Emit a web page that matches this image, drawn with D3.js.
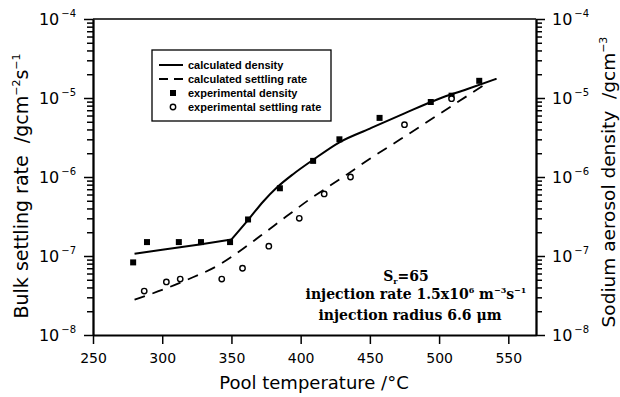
<!DOCTYPE html>
<html><head><meta charset="utf-8">
<script src="https://cdn.jsdelivr.net/npm/d3@7"></script>
<style>
body{margin:0;background:#fff;}
svg{display:block;}
text{fill:#000;}
</style></head>
<body>
<svg id="c" width="620" height="397"></svg>
<script>
// ---- data ----
const xTicks = [250, 300, 350, 400, 450, 500, 550];
const yDecades = [-8, -7, -6, -5, -4];
const calcDensityT = [280, 300, 327, 350, 363, 373, 383, 395, 409, 428, 450, 475, 500, 520, 541];
const calcDensity  = [1.07e-7, 1.2e-7, 1.4e-7, 1.62e-7, 3.0e-7, 4.9e-7, 7.4e-7, 1.1e-6, 1.65e-6, 2.75e-6, 4.1e-6, 6.4e-6, 9.8e-6, 1.29e-5, 1.74e-5];
const calcRateT = [280, 303, 318, 342, 351, 371, 390, 407, 430, 450, 472, 490, 509, 536];
const calcRate  = [2.8e-8, 3.9e-8, 5.0e-8, 7.9e-8, 1.0e-7, 1.8e-7, 3.2e-7, 5.3e-7, 9.8e-7, 1.7e-6, 3.0e-6, 4.8e-6, 7.9e-6, 1.6e-5];
const expDensityT = [279, 289, 312, 328, 349, 362, 385, 409, 428, 457, 494, 509, 529];
const expDensity  = [8.3e-8, 1.5e-7, 1.5e-7, 1.5e-7, 1.5e-7, 2.9e-7, 7.2e-7, 1.6e-6, 3.0e-6, 5.6e-6, 8.9e-6, 1.07e-5, 1.65e-5];
const expRateT = [287, 303, 313, 343, 358, 377, 399, 417, 436, 475, 509];
const expRate  = [3.6e-8, 4.7e-8, 5.1e-8, 5.1e-8, 7.0e-8, 1.33e-7, 3.0e-7, 6.1e-7, 1.0e-6, 4.6e-6, 9.8e-6];
const legendLabels = ["calculated density", "calculated settling rate", "experimental density", "experimental settling rate"];
const kinkT = 350;

// ---- layout ----
const L = 93, R = 536, T = 19, B = 335;
const svg = d3.select("#c");
const x = d3.scaleLinear().domain([250, 570]).range([L, R]);
const y = d3.scaleLog().domain([1e-8, 1e-4]).range([B, T]);
const yR = d3.scaleLog().domain([1e-8, 1e-4]).range([B, T]);

const majors = yDecades.map(d => Math.pow(10, d));
const minors = [];
yDecades.slice(0, -1).forEach(d => { for (let k = 2; k <= 9; k++) minors.push(k * Math.pow(10, d)); });

const axisFont = "'DejaVu Sans', sans-serif";
const styleAxis = g => {
  g.selectAll("path.domain").attr("stroke", "#000").attr("stroke-width", 1.8);
  g.selectAll(".tick line").attr("stroke", "#000").attr("stroke-width", 1.5);
};

// bottom axis
svg.append("g").attr("transform", `translate(0,${B})`)
  .call(d3.axisBottom(x).tickValues(xTicks).tickSizeInner(9).tickSizeOuter(0).tickPadding(9))
  .call(styleAxis)
  .call(g => g.selectAll("text").attr("font-family", axisFont).attr("font-size", 14).attr("fill", "#000"));

// top border
svg.append("line").attr("x1", L).attr("x2", R).attr("y1", T).attr("y2", T)
  .attr("stroke", "#000").attr("stroke-width", 1.5);

// left axis
svg.append("g").attr("transform", `translate(${L},0)`)
  .call(d3.axisLeft(y).tickValues(majors).tickSizeInner(9).tickSizeOuter(0).tickFormat(""))
  .call(styleAxis);
svg.append("g").attr("transform", `translate(${L},0)`)
  .call(d3.axisLeft(y).tickValues(minors).tickSizeInner(6).tickSizeOuter(0).tickFormat(""))
  .call(styleAxis);
// right axis
svg.append("g").attr("transform", `translate(${R},0)`)
  .call(d3.axisRight(yR).tickValues(majors).tickSizeInner(9).tickSizeOuter(0).tickFormat(""))
  .call(styleAxis);
svg.append("g").attr("transform", `translate(${R},0)`)
  .call(d3.axisRight(yR).tickValues(minors).tickSizeInner(6).tickSizeOuter(0).tickFormat(""))
  .call(styleAxis);

// tick labels 10^n
function powLabel(sel, xpos, anchorEnd) {
  sel.each(function(d) {
    const t = d3.select(this).append("text")
      .attr("font-family", axisFont).attr("font-size", 16)
      .attr("y", y(Math.pow(10, d))).attr("dy", "0.36em");
    t.append("tspan").text("10");
    t.append("tspan").attr("font-size", 10).attr("dy", "-0.75em").attr("dx", 2).text("−" + Math.abs(d));
    if (anchorEnd) t.attr("x", xpos).attr("text-anchor", "end");
    else t.attr("x", xpos);
  });
}
svg.append("g").selectAll("g").data(yDecades).join("g").call(powLabel, 76, true);
svg.append("g").selectAll("g").data(yDecades).join("g").call(powLabel, 552, false);

// axis titles
svg.append("text").attr("x", 314).attr("y", 389)
  .attr("text-anchor", "middle").attr("font-family", axisFont).attr("font-size", 18)
  .text("Pool temperature /°C");

const ly = svg.append("text").attr("transform", "translate(28,186) rotate(-90)")
  .attr("text-anchor", "middle").attr("font-family", axisFont).attr("font-size", 19);
ly.append("tspan").text("Bulk settling rate\u00a0\u00a0/gcm");
ly.append("tspan").attr("font-size", 11).attr("dy", -8).text("−2");
ly.append("tspan").attr("dy", 8).text("s");
ly.append("tspan").attr("font-size", 11).attr("dy", -8).text("−1");

const ry = svg.append("text").attr("transform", "translate(615,182) rotate(-90)")
  .attr("text-anchor", "middle").attr("font-family", axisFont).attr("font-size", 18.5);
ry.append("tspan").text("Sodium aerosol density\u00a0\u00a0/gcm");
ry.append("tspan").attr("font-size", 11).attr("dy", -8).text("−3");

// lines
const lineLin = d3.line().x(d => x(d[0])).y(d => y(d[1]));
const lineSmooth = d3.line().x(d => x(d[0])).y(d => y(d[1])).curve(d3.curveMonotoneX);
const dens = d3.zip(calcDensityT, calcDensity);
svg.append("path").datum(dens.filter(d => d[0] <= kinkT)).attr("d", lineLin)
  .attr("fill", "none").attr("stroke", "#000").attr("stroke-width", 2).attr("stroke-linejoin", "round");
svg.append("path").datum(dens.filter(d => d[0] >= kinkT)).attr("d", lineSmooth)
  .attr("fill", "none").attr("stroke", "#000").attr("stroke-width", 2).attr("stroke-linecap", "round");
svg.append("path").datum(d3.zip(calcRateT, calcRate)).attr("d", lineSmooth)
  .attr("fill", "none").attr("stroke", "#000").attr("stroke-width", 1.8)
  .attr("stroke-dasharray", "11,8");

// markers
svg.append("g").selectAll("rect").data(d3.zip(expDensityT, expDensity)).join("rect")
  .attr("x", d => x(d[0]) - 3).attr("y", d => y(d[1]) - 3).attr("width", 6).attr("height", 6)
  .attr("fill", "#000");
svg.append("g").selectAll("circle").data(d3.zip(expRateT, expRate)).join("circle")
  .attr("cx", d => x(d[0])).attr("cy", d => y(d[1])).attr("r", 2.7)
  .attr("fill", "#fff").attr("stroke", "#000").attr("stroke-width", 1.4);

// legend
const lg = svg.append("g");
lg.append("rect").attr("x", 152).attr("y", 50).attr("width", 179).attr("height", 71)
  .attr("fill", "#fff").attr("stroke", "#000").attr("stroke-width", 1.3);
const rowY = i => 65 + i * 14;
lg.append("line").attr("x1", 159).attr("x2", 183).attr("y1", rowY(0)).attr("y2", rowY(0))
  .attr("stroke", "#000").attr("stroke-width", 2);
lg.append("line").attr("x1", 159).attr("x2", 183).attr("y1", rowY(1)).attr("y2", rowY(1))
  .attr("stroke", "#000").attr("stroke-width", 1.8).attr("stroke-dasharray", "9,6");
lg.append("rect").attr("x", 170).attr("y", rowY(2) - 3).attr("width", 6).attr("height", 6).attr("fill", "#000");
lg.append("circle").attr("cx", 173).attr("cy", rowY(3)).attr("r", 2.7)
  .attr("fill", "#fff").attr("stroke", "#000").attr("stroke-width", 1.4);
lg.selectAll("text.lab").data(legendLabels).join("text").attr("class", "lab")
  .attr("x", 188).attr("y", (d, i) => rowY(i)).attr("dy", "0.35em")
  .attr("font-family", "'Liberation Sans', Arial, sans-serif").attr("font-weight", "bold")
  .attr("font-size", 11).text(d => d);

// annotation
const serif = "'DejaVu Serif', serif";
const a1 = svg.append("text").attr("x", 406).attr("y", 281).attr("text-anchor", "middle")
  .attr("font-family", serif).attr("font-weight", "bold").attr("font-size", 14);
a1.append("tspan").text("S");
a1.append("tspan").attr("font-size", 8).attr("dy", 3).text("r");
a1.append("tspan").attr("dy", -3).text("=65");
const a2 = svg.append("text").attr("x", 416).attr("y", 299).attr("text-anchor", "middle")
  .attr("font-family", serif).attr("font-weight", "bold").attr("font-size", 14);
a2.append("tspan").text("injection rate 1.5x10");
a2.append("tspan").attr("font-size", 8).attr("dy", -6).text("6");
a2.append("tspan").attr("dy", 6).text(" m");
a2.append("tspan").attr("font-size", 8).attr("dy", -6).text("−3");
a2.append("tspan").attr("dy", 6).text("s");
a2.append("tspan").attr("font-size", 8).attr("dy", -6).text("−1");
svg.append("text").attr("x", 410).attr("y", 320).attr("text-anchor", "middle")
  .attr("font-family", serif).attr("font-weight", "bold").attr("font-size", 14)
  .text("injection radius 6.6 μm");
</script>
</body></html>
